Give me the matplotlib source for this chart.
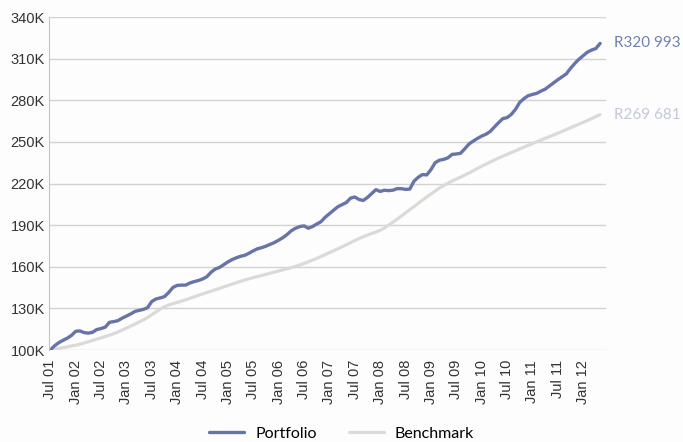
import matplotlib.pyplot as plt

# monthly values (thousands), Jul 2001 .. May 2012
portfolio = [
    100.0, 103.0, 105.3, 107.0, 108.5, 110.5, 113.5, 113.8, 112.6, 112.2,
    112.8, 114.8, 115.5, 116.5, 120.0, 120.5, 121.2, 123.0, 124.5, 126.0,
    127.8, 128.6, 129.3, 130.5, 135.0, 136.8, 137.6, 138.5, 141.5, 145.1,
    146.6, 146.8, 146.8, 148.3, 149.3, 150.1, 151.2, 152.8, 156.0, 158.4,
    159.5, 161.5, 163.5, 165.2, 166.5, 167.6, 168.3, 169.8, 171.5, 173.0,
    173.8, 174.9, 176.2, 177.5, 179.2, 181.0, 183.3, 186.0, 187.8, 189.0,
    189.5, 187.8, 189.0, 190.8, 192.5, 195.7, 198.3, 200.8, 203.3, 204.8,
    206.3, 209.5, 210.3, 208.5, 207.8, 210.0, 212.8, 215.6, 214.3, 215.2,
    214.9, 215.2, 216.3, 216.3, 215.8, 216.0, 221.7, 224.5, 226.5, 226.2,
    230.0, 235.0, 236.8, 237.4, 238.5, 241.0, 241.3, 241.8, 245.0, 248.5,
    250.6, 252.5, 254.2, 255.5, 257.5, 260.7, 263.9, 266.8, 267.5, 269.8,
    273.5, 278.5, 281.2, 283.3, 284.2, 285.0, 286.6, 288.0, 290.3, 292.6,
    294.8, 296.9, 299.0, 303.0, 306.5, 309.6, 312.2, 314.7, 316.2, 317.3,
    320.993,
]
benchmark = [
    100.0, 100.5, 101.1, 101.7, 102.3, 102.9, 103.5, 104.2, 105.1, 106.0,
    106.9, 107.9, 108.8, 109.8, 110.7, 111.8, 113.0, 114.4, 115.8, 117.2,
    118.7, 120.2, 121.7, 123.4, 125.5, 127.5, 129.5, 131.2, 132.5, 133.5,
    134.3, 135.2, 136.2, 137.3, 138.3, 139.4, 140.4, 141.4, 142.4, 143.4,
    144.4, 145.5, 146.5, 147.5, 148.5, 149.5, 150.5, 151.4, 152.2, 153.0,
    153.8, 154.6, 155.4, 156.2, 157.0, 157.8, 158.6, 159.4, 160.3, 161.3,
    162.4, 163.6, 164.8, 166.0, 167.4, 168.8, 170.2, 171.6, 173.0, 174.4,
    175.9, 177.4, 178.9, 180.3, 181.6, 182.9, 184.0, 185.1, 186.3, 188.0,
    190.0, 192.1, 194.3, 196.6, 198.9, 201.2, 203.5, 205.8, 208.1, 210.3,
    212.5, 214.6, 216.7, 218.5, 220.2, 221.8, 223.2, 224.6, 226.1, 227.6,
    229.2, 230.9, 232.5, 234.0, 235.5, 236.9, 238.3, 239.7, 241.0, 242.3,
    243.6, 244.9, 246.2, 247.5, 248.8, 250.1, 251.3, 252.6, 253.8, 255.0,
    256.3, 257.6, 258.9, 260.2, 261.5, 262.8, 264.1, 265.4, 266.8, 268.2,
    269.681,
]
tick_labels = ['Jul 01', 'Jan 02', 'Jul 02', 'Jan 03', 'Jul 03', 'Jan 04', 'Jul 04',
               'Jan 05', 'Jul 05', 'Jan 06', 'Jul 06', 'Jan 07', 'Jul 07', 'Jan 08',
               'Jul 08', 'Jan 09', 'Jul 09', 'Jan 10', 'Jul 10', 'Jan 11', 'Jul 11',
               'Jan 12']
y_ticks = [100, 130, 160, 190, 220, 250, 280, 310, 340]
end_labels = ['R320 993', 'R269 681']

blue = '#6674a8'
grey = '#dcdad6'

months = list(range(len(portfolio)))

fig = plt.figure(figsize=(6.83, 4.42), dpi=100)
fig.patch.set_facecolor('#fdfdfd')
ax = fig.add_axes([0.0717, 0.208, 0.815, 0.7535])
ax.set_facecolor('#fdfdfd')

ax.plot(months, benchmark, color=grey, lw=2.3, label='Benchmark', solid_capstyle='round')
ax.plot(months, portfolio, color=blue, lw=2.4, label='Portfolio', solid_capstyle='round')

ax.set_xlim(-0.3, 131.3)
ax.set_ylim(100, 340)
ax.set_yticks(y_ticks)
ax.set_yticklabels([f'{v}K' for v in y_ticks], fontsize=10.5, color='#333333',
                   family='Liberation Sans')
ax.set_xticks(range(0, 127, 6))
ax.set_xticklabels(tick_labels, rotation=90, fontsize=10.5, color='#333333',
                   family='Liberation Sans')
ax.tick_params(length=0, pad=3)
ax.tick_params(axis='x', pad=7)

ax.grid(axis='y', color='#d3d3d3', lw=1)
ax.set_axisbelow(True)
for s in ['top', 'right', 'bottom']:
    ax.spines[s].set_visible(False)
ax.spines['left'].set_color('#c4c4c4')

# values at the end of the lines
ax.annotate(end_labels[0], xy=(months[-1], portfolio[-1]), xytext=(10, 0),
            textcoords='offset points', va='center', fontsize=11, color='#7080b0',
            family='Lato', annotation_clip=False)
ax.annotate(end_labels[1], xy=(months[-1], benchmark[-1]), xytext=(10, 0),
            textcoords='offset points', va='center', fontsize=11, color='#c2c9d8',
            family='Lato', annotation_clip=False)

h, l = ax.get_legend_handles_labels()
fig.legend(h[::-1], l[::-1], loc='lower center', bbox_to_anchor=(0.5, -0.03), ncol=2,
           frameon=False, prop={'family': 'Lato', 'size': 11.5}, handlelength=2.2,
           columnspacing=2.0, handletextpad=0.7)

fig.savefig('out.png', dpi=100, facecolor=fig.get_facecolor())
